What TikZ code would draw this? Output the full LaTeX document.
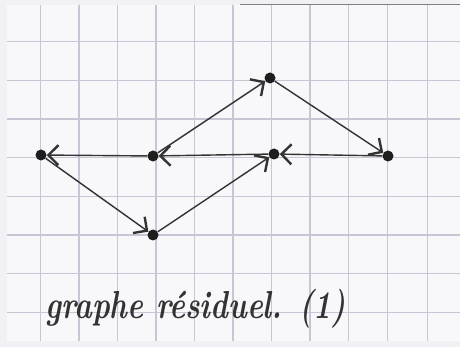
\documentclass[tikz,border=0pt]{standalone}
\usetikzlibrary{arrows.meta}
\definecolor{paper}{HTML}{F8F8FB}
\definecolor{margin}{HTML}{F0F0F5}
\definecolor{gridc}{HTML}{C6C6D4}
\definecolor{ink}{HTML}{333333}
\definecolor{dotc}{HTML}{1E1E1E}
\tikzset{
  vtx/.style={circle,fill=dotc,inner sep=0pt,minimum size=11pt},
  edge/.style={draw=ink,line width=1.4pt,
    -{Straight Barb[length=10pt,width=20pt,line width=2.4pt]}},
  gridline/.style={draw=gridc,line width=1.2pt},
  caption/.style={text=ink,font=\bfseries\itshape,anchor=base west,inner sep=0pt}
}
\begin{document}
\begin{tikzpicture}[x=1pt,y=-1pt]
\useasboundingbox (0,0) rectangle (460,347);
\fill[margin] (0,0) rectangle (460,347);
\fill[paper] (7,5) rectangle (460,341);
\foreach \gx in {40.5,79,117.5,156,194.5,233,271.5,310,348.5,387.5,427.5}
  \draw[gridline] (\gx,5) -- (\gx,341);
\foreach \gy in {41.7,80.3,119,157.7,196.3,235,273.7,312.3}
  \draw[gridline] (7,\gy) -- (460,\gy);
\draw[gray,line width=0.8pt] (240,4.5) -- (460,4.5);
% vertices
\node[vtx] (l) at (41,155) {};
\node[vtx] (a) at (153,156) {};
\node[vtx] (t) at (270,78) {};
\node[vtx] (b) at (274,154) {};
\node[vtx] (r) at (388,156) {};
\node[vtx] (d) at (153,235) {};
% edges
\draw[edge] (l) -- (d);
\draw[edge] (d) -- (b);
\draw[edge] (a) -- (t);
\draw[edge] (t) -- (r);
\draw[edge] (r) -- (b);
\draw[edge] (b) -- (a);
\draw[edge] (a) -- (l);
% caption
\node[caption] (cap) at (45,318) {\scalebox{1}[1.3]{\resizebox{300pt}{!}{graphe résiduel. (1)}}};
\end{tikzpicture}
\end{document}
